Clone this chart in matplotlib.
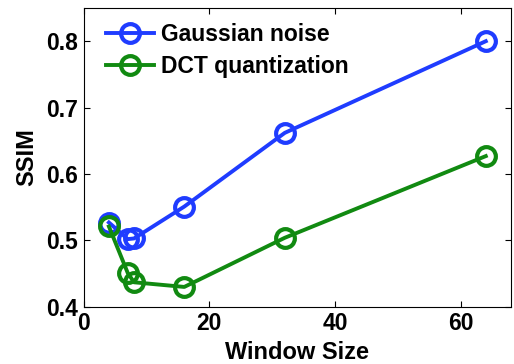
import matplotlib
matplotlib.use('Agg')
import matplotlib.pyplot as plt

# ── Data ──────────────────────────────────────────────────────────────────────
window_sizes = [4, 7, 8, 16, 32, 64]
gaussian_ssim = [0.527, 0.502, 0.503, 0.551, 0.662, 0.800]
dct_ssim      = [0.521, 0.451, 0.437, 0.430, 0.504, 0.627]

x_ticks = [0, 20, 40, 60]
y_ticks = [0.4, 0.5, 0.6, 0.7, 0.8]

plt.rcParams['font.family'] = ['Liberation Sans', 'DejaVu Sans']
plt.rcParams['font.weight'] = 'bold'

fig = plt.figure(figsize=(5.14, 3.64), dpi=100)
ax = fig.add_axes([0.163, 0.157, 0.831, 0.821])

ax.plot(window_sizes, gaussian_ssim, color="#1f3cff", linewidth=2.8, marker="o",
        markersize=13.5, markerfacecolor="none", markeredgewidth=3.0,
        label="Gaussian noise")
ax.plot(window_sizes, dct_ssim, color="#118a11", linewidth=2.8, marker="o",
        markersize=13.5, markerfacecolor="none", markeredgewidth=3.0,
        label="DCT quantization")

ax.set_xlim(0, 68)
ax.set_ylim(0.4, 0.85)
ax.set_xticks(x_ticks)
ax.set_yticks(y_ticks)
ax.set_yticklabels([f"{v:.1f}" for v in y_ticks])
ax.tick_params(direction="in", top=True, right=True, length=4, width=0.8,
               labelsize=16.5, pad=4)
for lab in ax.get_xticklabels() + ax.get_yticklabels():
    lab.set_fontweight("bold")

ax.set_xlabel("Window Size", fontsize=17, fontweight="bold", labelpad=4)
ax.set_ylabel("SSIM", fontsize=17, fontweight="bold", labelpad=6)

leg = ax.legend(loc="upper left", frameon=False, fontsize=16.5,
                handlelength=2.1, handletextpad=0.3, labelspacing=0.4,
                borderaxespad=0.2, bbox_to_anchor=(0.02, 0.995))
for t in leg.get_texts():
    t.set_fontweight("bold")

fig.savefig("out.png", dpi=100)
